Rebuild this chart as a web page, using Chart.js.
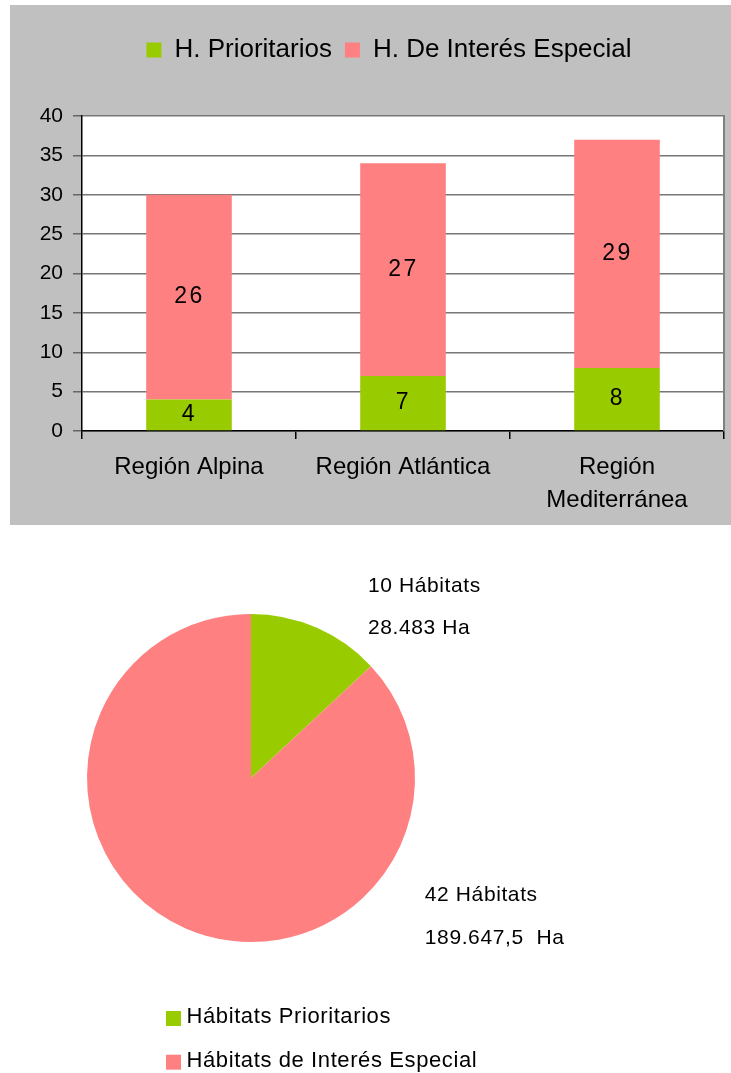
<!DOCTYPE html>
<html lang="es">
<head>
<meta charset="utf-8">
<title>Hábitats por región biogeográfica</title>
<script src="https://cdn.jsdelivr.net/npm/chart.js@4.4.1/dist/chart.umd.min.js"></script>
<style>
  html, body { margin: 0; padding: 0; background: #ffffff; }
  body { width: 731px; height: 1073px; position: relative; overflow: hidden; }
  #barBox { position: absolute; left: 10px; top: 5px; width: 721px; height: 520px; background: #c0c0c0; }
  #pieBox { position: absolute; left: 0; top: 525px; width: 731px; height: 548px; }
  canvas { display: block; }
</style>
</head>
<body>
<div id="barBox"><canvas id="barChart"></canvas></div>
<div id="pieBox"><canvas id="pieChart"></canvas></div>
<script>
// ---- Hábitats por región (barras apiladas) ----
const regions = ['Región Alpina', 'Región Atlántica', ['Región', 'Mediterránea']];
const seriesNames = ['H. Prioritarios', 'H. De Interés Especial'];
const prioritarios = [4, 7, 8];
const interesEspecial = [26, 27, 29];
const yMin = 0;
const yMax = 40;
const yStep = 5;

// ---- Superficie por tipo de hábitat (tarta) ----
const pieLabels = ['Hábitats Prioritarios', 'Hábitats de Interés Especial'];
const pieHectares = [28483, 189647.5];
const pieHabitats = [10, 42];
const pieUnitGap = [' ', '  '];

const GREEN = '#99cc00';
const PINK = '#ff8080';
const FONT = '"Liberation Sans", Arial, Helvetica, sans-serif';

// Spanish number format: 189647.5 -> "189.647,5"
function formatEs(v) {
  const [intPart, dec] = String(v).split('.');
  const grouped = intPart.replace(/\B(?=(\d{3})+(?!\d))/g, '.');
  return dec ? grouped + ',' + dec : grouped;
}

// White plot background and grey right frame of the plot area
const plotFrame = {
  id: 'plotFrame',
  beforeDraw(chart) {
    const { ctx, chartArea: a } = chart;
    ctx.save();
    ctx.fillStyle = '#ffffff';
    ctx.fillRect(a.left, a.top, a.right - a.left, a.bottom - a.top);
    ctx.restore();
  },
  beforeDatasetsDraw(chart) {
    const { ctx, chartArea: a } = chart;
    ctx.save();
    ctx.strokeStyle = '#808080';
    ctx.lineWidth = 2;
    ctx.beginPath();
    ctx.moveTo(a.right, a.top - 1);
    ctx.lineTo(a.right, a.bottom);
    ctx.stroke();
    ctx.restore();
  }
};

// Legend band height and horizontal placement
const legendBand = {
  id: 'legendBand',
  beforeLayout(chart) {
    const lg = chart.legend;
    if (lg && !lg._bandFit) {
      const fit = lg.fit;
      lg.fit = function () { fit.call(this); this.height = 92; };
      lg._bandFit = true;
    }
  },
  afterLayout(chart) {
    const lg = chart.legend;
    if (lg) { lg.left += 22; lg.right += 22; }
  }
};

// Wider tracking for the value-axis numbers
const axisTracking = {
  id: 'axisTracking',
  afterLayout(chart) {
    const s = chart.scales.y;
    if (s && !s._tracked) {
      const draw = s.draw;
      s.draw = function (area) {
        const c = this.ctx;
        const prev = c.letterSpacing;
        c.letterSpacing = '2.5px';
        draw.call(this, area);
        c.letterSpacing = prev;
      };
      s._tracked = true;
    }
  }
};

// Value labels centred in each stacked segment
const segmentValues = {
  id: 'segmentValues',
  afterDatasetsDraw(chart) {
    const ctx = chart.ctx;
    ctx.save();
    ctx.font = '23px ' + FONT;
    ctx.fillStyle = '#000000';
    ctx.textAlign = 'center';
    ctx.textBaseline = 'middle';
    ctx.letterSpacing = '2.5px';
    chart.data.datasets.forEach((ds, di) => {
      chart.getDatasetMeta(di).data.forEach((bar, i) => {
        const { x, y, base } = bar.getProps(['x', 'y', 'base'], true);
        ctx.fillText(String(ds.data[i]), x + 0.5, (y + base) / 2);
      });
    });
    ctx.restore();
  }
};

new Chart(document.getElementById('barChart'), {
  type: 'bar',
  data: {
    labels: regions,
    datasets: [
      { label: seriesNames[0], data: prioritarios, backgroundColor: GREEN, borderWidth: 0 },
      { label: seriesNames[1], data: interesEspecial, backgroundColor: PINK, borderWidth: 0 }
    ]
  },
  options: {
    responsive: true,
    maintainAspectRatio: false,
    animation: false,
    layout: { padding: { top: 19, right: 7, left: 0, bottom: 0 } },
    datasets: { bar: { categoryPercentage: 1, barPercentage: 0.4 } },
    plugins: {
      legend: {
        position: 'top',
        labels: {
          color: '#000000',
          font: { family: FONT, size: 26 },
          boxWidth: 15,
          boxHeight: 15,
          padding: 13
        }
      },
      tooltip: { enabled: false }
    },
    scales: {
      x: {
        stacked: true,
        offset: true,
        grid: { offset: true, drawOnChartArea: false, drawTicks: true, tickLength: 8, color: '#000000', tickColor: '#000000', lineWidth: 1.5 },
        border: { color: '#000000', width: 1.5 },
        ticks: { color: '#000000', font: { family: FONT, size: 24, lineHeight: 1.375 }, padding: 12, maxRotation: 0, autoSkip: false },
        afterFit(s) { s.height = 94; }
      },
      y: {
        stacked: true,
        min: yMin,
        max: yMax,
        grid: { color: '#777777', lineWidth: 1.5, drawTicks: true, tickLength: 9, tickColor: '#666666' },
        border: { color: '#000000', width: 1.5 },
        ticks: { stepSize: yStep, color: '#000000', font: { family: FONT, size: 21 }, padding: 10 },
        afterFit(s) { s.width = 72; }
      }
    }
  },
  plugins: [plotFrame, legendBand, axisTracking, segmentValues]
});

// Callout texts next to each slice
const sliceCallouts = {
  id: 'sliceCallouts',
  afterDatasetsDraw(chart) {
    const arc = chart.getDatasetMeta(0).data[0];
    if (!arc) return;
    const { x: cx, y: cy, outerRadius: r } = arc.getProps(['x', 'y', 'outerRadius'], true);
    const anchors = [{ dx: 0.713, dy: -1.17 }, { dx: 1.06, dy: 0.715 }];
    const ctx = chart.ctx;
    ctx.save();
    ctx.font = '21px ' + FONT;
    ctx.fillStyle = '#000000';
    ctx.textAlign = 'left';
    ctx.textBaseline = 'middle';
    ctx.letterSpacing = '0.6px';
    chart.data.datasets[0].data.forEach((v, i) => {
      const x = cx + anchors[i].dx * r;
      const y = cy + anchors[i].dy * r;
      ctx.fillText(pieHabitats[i] + ' Hábitats', x, y);
      ctx.fillText(formatEs(v) + pieUnitGap[i] + 'Ha', x, y + 42.5);
    });
    ctx.restore();
  }
};

// Vertical legend under the pie
const stackedLegend = {
  id: 'stackedLegend',
  afterDraw(chart) {
    const arc = chart.getDatasetMeta(0).data[0];
    if (!arc) return;
    const { x: cx } = arc.getProps(['x'], true);
    const a = chart.chartArea;
    const ctx = chart.ctx;
    const colors = chart.data.datasets[0].backgroundColor;
    ctx.save();
    ctx.font = '22px ' + FONT;
    ctx.textAlign = 'left';
    ctx.textBaseline = 'middle';
    ctx.letterSpacing = '0.6px';
    chart.data.labels.forEach((label, i) => {
      const y = a.bottom + 75 + i * 43.7;
      ctx.fillStyle = colors[i];
      ctx.fillRect(cx - 85, y - 6, 15, 15);
      ctx.fillStyle = '#000000';
      ctx.fillText(label, cx - 64.5, y);
    });
    ctx.restore();
  }
};

new Chart(document.getElementById('pieChart'), {
  type: 'pie',
  data: {
    labels: pieLabels,
    datasets: [{ data: pieHectares, backgroundColor: [GREEN, PINK], borderWidth: 0 }]
  },
  options: {
    responsive: true,
    maintainAspectRatio: false,
    animation: false,
    layout: { padding: { left: 87, right: 316, top: 89, bottom: 131 } },
    plugins: { legend: { display: false }, tooltip: { enabled: false } }
  },
  plugins: [sliceCallouts, stackedLegend]
});
</script>
</body>
</html>
